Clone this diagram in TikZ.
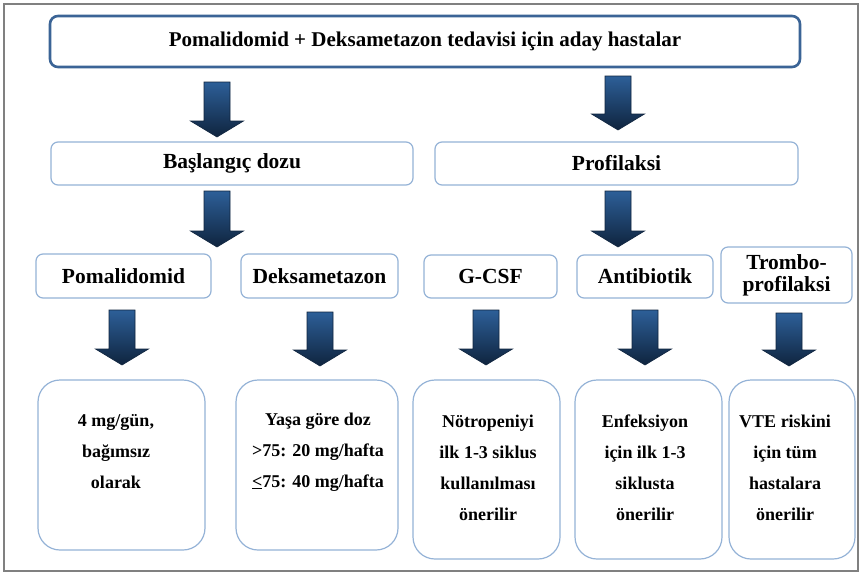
\documentclass[tikz,border=0pt]{standalone}
\usepackage{fontspec}
\setmainfont{Liberation Serif}
\definecolor{frame}{RGB}{128,128,128}
\definecolor{topb}{RGB}{59,100,150}
\definecolor{lb}{RGB}{149,179,215}
\definecolor{arrtop}{RGB}{45,95,152}
\definecolor{arrbot}{RGB}{15,36,62}
\tikzset{
  lbl/.style={draw=lb, line width=1.2pt, rounded corners=7pt, fill=white, font=\fontsize{21.5}{23}\selectfont\bfseries, align=center, inner sep=0pt},
  topbox/.style={draw=topb, line width=2.6pt, rounded corners=8pt, fill=white, font=\fontsize{21}{23}\selectfont\bfseries, inner sep=0pt},
  bigbox/.style={draw=lb, line width=1.2pt, rounded corners=22pt, fill=white, inner sep=0pt},
  btxt/.style={font=\fontsize{18}{31}\selectfont\bfseries, align=center, inner sep=0pt},
  barr/.style={top color=arrtop, bottom color=arrbot, draw=arrbot, line width=0.6pt}
}
\newcommand\blockarrow[3]{%
  \shadedraw[barr] (#1-13,#2) -- (#1+13,#2) -- (#1+13,#3-16) -- (#1+26.5,#3-16) -- (#1,#3) -- (#1-26.5,#3-16) -- (#1-13,#3-16) -- cycle;}
\begin{document}
\begin{tikzpicture}[x=1pt,y=-1pt]
\useasboundingbox (0,0) rectangle (862,574);
\fill[white] (0,0) rectangle (862,574);
\draw[frame, line width=1.5pt] (4,4) rectangle (858,571);

% top
\node[topbox, minimum width=750pt, minimum height=51pt] (top) at (425,41.5) {Pomalidomid + Deksametazon tedavisi için aday hastalar};

% arrows
\blockarrow{217}{82}{137}
\blockarrow{618}{76}{130}

\node[lbl, minimum width=362pt, minimum height=43pt] (bas) at (232,163.5) {Başlangıç dozu};
\node[lbl, minimum width=363pt, minimum height=43pt] (prof) at (616.5,163.5) {Profilaksi};

\blockarrow{217}{191}{247}
\blockarrow{618}{191}{247}

\node[lbl, minimum width=175pt, minimum height=44pt] (pom) at (123.5,276) {Pomalidomid};
\node[lbl, minimum width=157pt, minimum height=44pt] (dek) at (319.5,276) {Deksametazon};
\node[lbl, minimum width=133pt, minimum height=43pt] (gcsf) at (490.5,276.5) {G-CSF};
\node[lbl, minimum width=136pt, minimum height=43pt] (anti) at (645,276.5) {Antibiotik};
\node[lbl, minimum width=131pt, minimum height=56pt, font=\fontsize{21.5}{22}\selectfont\bfseries] (trom) at (786.5,275) {Trombo-\\profilaksi};

\blockarrow{122}{310}{365}
\blockarrow{320}{312}{366}
\blockarrow{486}{310}{365}
\blockarrow{645}{310}{365}
\blockarrow{789}{313}{366}

\node[bigbox, minimum width=167pt, minimum height=170pt] (b1) at (121.5,465) {};
\node[bigbox, minimum width=162pt, minimum height=170pt] (b2) at (317,465) {};
\node[bigbox, minimum width=147pt, minimum height=179pt] (b3) at (486.5,469.5) {};
\node[bigbox, minimum width=147pt, minimum height=179pt] (b4) at (648.5,469.5) {};
\node[bigbox, minimum width=126pt, minimum height=179pt] (b5) at (792,469.5) {};

\node[btxt] (t1) at (116,452) {4 mg/gün,\\bağımsız\\olarak};
\node[btxt] (t2) at (318,452) {Yaşa göre doz\\>75: 20 mg/hafta\\\underline{<}75: 40 mg/hafta};
\node[btxt] (t3) at (488,468) {Nötropeniyi\\ilk 1-3 siklus\\kullanılması\\önerilir};
\node[btxt] (t4) at (645,468) {Enfeksiyon\\için ilk 1-3\\siklusta\\önerilir};
\node[btxt] (t5) at (785,468) {VTE riskini\\için tüm\\hastalara\\önerilir};
\end{tikzpicture}
\end{document}
